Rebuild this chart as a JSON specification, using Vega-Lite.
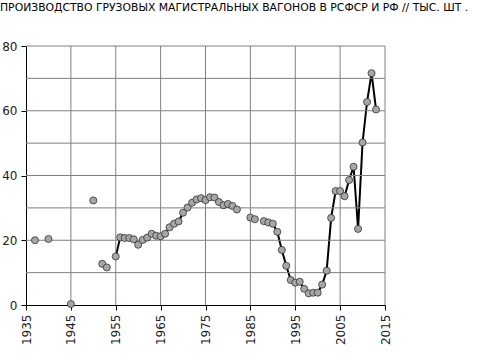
{
  "$schema": "https://vega.github.io/schema/vega-lite/v6.json",
  "autosize": "none",
  "width": 359,
  "height": 259,
  "padding": {"left": 26, "top": 46, "right": 97, "bottom": 56},
  "background": "white",
  "title": {
    "text": "ПРОИЗВОДСТВО ГРУЗОВЫХ МАГИСТРАЛЬНЫХ ВАГОНОВ В РСФСР И РФ // ТЫС. ШТ .",
    "anchor": "start",
    "frame": "group",
    "dx": -26,
    "offset": 27,
    "font": "DejaVu Sans",
    "fontSize": 10.8,
    "fontWeight": "normal",
    "color": "#000000"
  },
  "config": {
    "view": {"stroke": null}
  },
  "datasets": {
    "gx": [{"g": 1945}, {"g": 1955}, {"g": 1965}, {"g": 1975}, {"g": 1985}, {"g": 1995}, {"g": 2005}, {"g": 2015}],
    "gy": [{"g": 10}, {"g": 20}, {"g": 30}, {"g": 40}, {"g": 50}, {"g": 60}, {"g": 70}, {"g": 80}],
    "prod": [
      {"year": 1937, "v": 20.0, "run": "a"},
      {"year": 1940, "v": 20.4, "run": "b"},
      {"year": 1945, "v": 0.3, "run": "c"},
      {"year": 1950, "v": 32.3, "run": "d"},
      {"year": 1952, "v": 12.7, "run": "e"},
      {"year": 1953, "v": 11.6, "run": "e"},
      {"year": 1955, "v": 15.0, "run": "f"},
      {"year": 1956, "v": 20.9, "run": "f"},
      {"year": 1957, "v": 20.7, "run": "f"},
      {"year": 1958, "v": 20.7, "run": "f"},
      {"year": 1959, "v": 20.3, "run": "f"},
      {"year": 1960, "v": 18.6, "run": "f"},
      {"year": 1961, "v": 20.1, "run": "f"},
      {"year": 1962, "v": 20.8, "run": "f"},
      {"year": 1963, "v": 22.0, "run": "f"},
      {"year": 1964, "v": 21.4, "run": "f"},
      {"year": 1965, "v": 21.2, "run": "f"},
      {"year": 1966, "v": 22.0, "run": "f"},
      {"year": 1967, "v": 24.0, "run": "f"},
      {"year": 1968, "v": 25.1, "run": "f"},
      {"year": 1969, "v": 25.8, "run": "f"},
      {"year": 1970, "v": 28.5, "run": "f"},
      {"year": 1971, "v": 30.1, "run": "f"},
      {"year": 1972, "v": 31.6, "run": "f"},
      {"year": 1973, "v": 32.6, "run": "f"},
      {"year": 1974, "v": 33.0, "run": "f"},
      {"year": 1975, "v": 32.4, "run": "f"},
      {"year": 1976, "v": 33.3, "run": "f"},
      {"year": 1977, "v": 33.2, "run": "f"},
      {"year": 1978, "v": 31.8, "run": "f"},
      {"year": 1979, "v": 30.8, "run": "f"},
      {"year": 1980, "v": 31.2, "run": "f"},
      {"year": 1981, "v": 30.6, "run": "f"},
      {"year": 1982, "v": 29.5, "run": "f"},
      {"year": 1985, "v": 27.0, "run": "g"},
      {"year": 1986, "v": 26.5, "run": "g"},
      {"year": 1988, "v": 25.9, "run": "h"},
      {"year": 1989, "v": 25.5, "run": "h"},
      {"year": 1990, "v": 25.1, "run": "h"},
      {"year": 1991, "v": 22.6, "run": "h"},
      {"year": 1992, "v": 17.0, "run": "h"},
      {"year": 1993, "v": 12.1, "run": "h"},
      {"year": 1994, "v": 7.7, "run": "h"},
      {"year": 1995, "v": 6.9, "run": "h"},
      {"year": 1996, "v": 7.2, "run": "h"},
      {"year": 1997, "v": 5.0, "run": "h"},
      {"year": 1998, "v": 3.6, "run": "h"},
      {"year": 1999, "v": 3.8, "run": "h"},
      {"year": 2000, "v": 3.8, "run": "h"},
      {"year": 2001, "v": 6.3, "run": "h"},
      {"year": 2002, "v": 10.6, "run": "h"},
      {"year": 2003, "v": 26.9, "run": "h"},
      {"year": 2004, "v": 35.2, "run": "h"},
      {"year": 2005, "v": 35.2, "run": "h"},
      {"year": 2006, "v": 33.6, "run": "h"},
      {"year": 2007, "v": 38.6, "run": "h"},
      {"year": 2008, "v": 42.7, "run": "h"},
      {"year": 2009, "v": 23.5, "run": "h"},
      {"year": 2010, "v": 50.2, "run": "h"},
      {"year": 2011, "v": 62.7, "run": "h"},
      {"year": 2012, "v": 71.6, "run": "h"},
      {"year": 2013, "v": 60.4, "run": "h"}
    ]
  },
  "layer": [
    {
      "data": {"name": "prod"},
      "mark": {"type": "line", "color": "#000000", "strokeWidth": 2},
      "encoding": {
        "x": {
          "field": "year", "type": "quantitative", "title": null,
          "scale": {"domain": [1935, 2015], "nice": false, "zero": false},
          "axis": {
            "values": [1935, 1945, 1955, 1965, 1975, 1985, 1995, 2005, 2015],
            "format": "d", "labelAngle": -90, "labelPadding": 4,
            "labelFont": "DejaVu Sans", "labelFontSize": 12, "labelColor": "#222222",
            "grid": false, "domainColor": "#000000", "tickColor": "#000000", "tickSize": 5
          }
        },
        "y": {
          "field": "v", "type": "quantitative", "title": null,
          "scale": {"domain": [0, 80], "nice": false},
          "axis": {
            "values": [0, 10, 20, 30, 40, 50, 60, 70, 80], "labelPadding": 4,
            "labelFont": "DejaVu Sans", "labelFontSize": 12, "labelColor": "#222222",
            "grid": false, "domainColor": "#000000", "tickColor": "#000000", "tickSize": 5
          }
        },
        "detail": {"field": "run", "type": "nominal"}
      }
    },
    {
      "data": {"name": "gx"},
      "mark": {"type": "rule", "color": "#808080", "strokeWidth": 1},
      "encoding": {
        "x": {"field": "g", "type": "quantitative"}
      }
    },
    {
      "data": {"name": "gy"},
      "mark": {"type": "rule", "color": "#808080", "strokeWidth": 1},
      "encoding": {
        "y": {"field": "g", "type": "quantitative"}
      }
    },
    {
      "data": {"name": "prod"},
      "mark": {"type": "point", "filled": true, "fill": "#a6a6a6", "stroke": "#333333", "strokeWidth": 0.8, "size": 50, "opacity": 1},
      "encoding": {
        "x": {"field": "year", "type": "quantitative"},
        "y": {"field": "v", "type": "quantitative"}
      }
    }
  ]
}
